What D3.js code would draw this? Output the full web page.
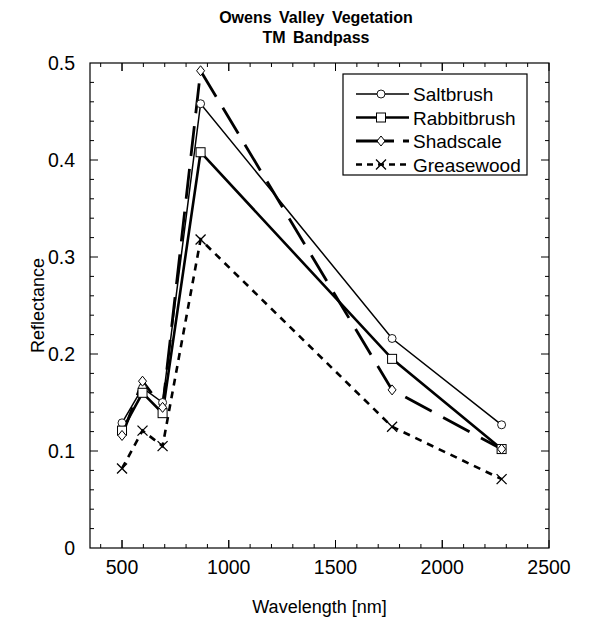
<!DOCTYPE html>
<html>
<head>
<meta charset="UTF-8">
<title>Owens Valley Vegetation</title>
<script src="https://cdn.jsdelivr.net/npm/d3@7"></script>
<style>
body { margin: 0; background: #fff; }
svg text { font-family: "Liberation Sans", Arial, sans-serif; fill: #000; }
</style>
</head>
<body>
<div id="chart"></div>
<script>
// wavelengths of the TM bands (nm)
var wavelength = [500, 596, 690, 868, 1765, 2278];
var seriesNames = ["Saltbrush", "Rabbitbrush", "Shadscale", "Greasewood"];
var saltbrush   = [0.129, 0.165, 0.150, 0.458, 0.216, 0.127];
var rabbitbrush = [0.121, 0.160, 0.139, 0.408, 0.195, 0.102];
var shadscale   = [0.116, 0.172, 0.145, 0.492, 0.163, 0.102];
var greasewood  = [0.082, 0.121, 0.105, 0.318, 0.125, 0.071];
var xTicks = [500, 1000, 1500, 2000, 2500];
var yTicks = [0, 0.1, 0.2, 0.3, 0.4, 0.5];

var width = 610, height = 622;
var margin = {top: 63, right: 61, bottom: 74, left: 90};

var svg = d3.select("#chart").append("svg")
    .attr("width", width)
    .attr("height", height);

var x = d3.scaleLinear().domain([350, 2500]).range([margin.left, width - margin.right]);
var y = d3.scaleLinear().domain([0, 0.5]).range([height - margin.bottom, margin.top]);

// frame
svg.append("rect")
    .attr("x", x(350)).attr("y", y(0.5))
    .attr("width", x(2500) - x(350)).attr("height", y(0) - y(0.5))
    .attr("fill", "none").attr("stroke", "#000").attr("stroke-width", 1.2);

// ticks inside the frame, on all four sides
var xMinor = d3.range(400, 2500, 100);
var yMinor = d3.range(0.02, 0.5, 0.02);
function tickLen(isMajor) { return isMajor ? 8 : 4; }

xMinor.concat(xTicks).forEach(function(v) {
    var major = xTicks.indexOf(v) >= 0;
    var L = tickLen(major);
    svg.append("line").attr("x1", x(v)).attr("x2", x(v))
        .attr("y1", y(0)).attr("y2", y(0) - L).attr("stroke", "#000");
    svg.append("line").attr("x1", x(v)).attr("x2", x(v))
        .attr("y1", y(0.5)).attr("y2", y(0.5) + L).attr("stroke", "#000");
});
yMinor.forEach(function(v) {
    var major = Math.abs(v * 10 - Math.round(v * 10)) < 1e-6;
    var L = tickLen(major);
    svg.append("line").attr("x1", x(350)).attr("x2", x(350) + L)
        .attr("y1", y(v)).attr("y2", y(v)).attr("stroke", "#000");
    svg.append("line").attr("x1", x(2500)).attr("x2", x(2500) - L)
        .attr("y1", y(v)).attr("y2", y(v)).attr("stroke", "#000");
});

// tick labels
svg.selectAll(".xlab").data(xTicks).enter().append("text")
    .attr("class", "xlab")
    .attr("x", function(d) { return x(d); })
    .attr("y", y(0) + 26)
    .attr("text-anchor", "middle")
    .attr("font-size", "19.5px")
    .text(function(d) { return d; });
svg.selectAll(".ylab").data(yTicks).enter().append("text")
    .attr("class", "ylab")
    .attr("x", x(350) - 15)
    .attr("y", function(d) { return y(d) + 7; })
    .attr("text-anchor", "end")
    .attr("font-size", "19.5px")
    .text(function(d) { return d === 0 ? "0" : d3.format(".1f")(d); });

// axis titles
svg.append("text")
    .attr("x", (x(350) + x(2500)) / 2).attr("y", 613)
    .attr("text-anchor", "middle").attr("font-size", "18px")
    .text("Wavelength [nm]");
svg.append("text")
    .attr("transform", "translate(44," + ((y(0) + y(0.5)) / 2) + ") rotate(-90)")
    .attr("text-anchor", "middle").attr("font-size", "18px")
    .text("Reflectance");

// title
svg.append("text")
    .attr("x", 316).attr("y", 23)
    .attr("text-anchor", "middle").attr("font-size", "16px").attr("font-weight", "bold")
    .attr("word-spacing", "3px")
    .text("Owens Valley Vegetation");
svg.append("text")
    .attr("x", 316).attr("y", 43)
    .attr("text-anchor", "middle").attr("font-size", "16px").attr("font-weight", "bold")
    .attr("word-spacing", "3px")
    .text("TM Bandpass");

// series styles
var styles = [
    {values: saltbrush,   width: 1.5, dash: null,   marker: "circle"},
    {values: rabbitbrush, width: 2.6, dash: null,   marker: "square"},
    {values: shadscale,   width: 2.8, dash: "30,13", marker: "diamond"},
    {values: greasewood,  width: 2.6, dash: "7,6",  marker: "cross"}
];

function drawMarker(g, type, cx, cy) {
    if (type === "circle") {
        g.append("circle").attr("cx", cx).attr("cy", cy).attr("r", 4)
            .attr("fill", "#fff").attr("stroke", "#000").attr("stroke-width", 0.9);
    } else if (type === "square") {
        g.append("rect").attr("x", cx - 4.5).attr("y", cy - 4.5).attr("width", 9).attr("height", 9)
            .attr("fill", "#fff").attr("stroke", "#000").attr("stroke-width", 1);
    } else if (type === "diamond") {
        g.append("path").attr("d", "M" + cx + "," + (cy - 5) + "L" + (cx + 4) + "," + cy +
                "L" + cx + "," + (cy + 5) + "L" + (cx - 4) + "," + cy + "Z")
            .attr("fill", "#fff").attr("stroke", "#000").attr("stroke-width", 1);
    } else {
        g.append("path").attr("d", "M" + (cx - 5) + "," + (cy - 5) + "L" + (cx + 5) + "," + (cy + 5) +
                "M" + (cx + 5) + "," + (cy - 5) + "L" + (cx - 5) + "," + (cy + 5))
            .attr("fill", "none").attr("stroke", "#000").attr("stroke-width", 1.3);
    }
}

var line = d3.line()
    .x(function(d, i) { return x(wavelength[i]); })
    .y(function(d) { return y(d); });

styles.forEach(function(s) {
    svg.append("path")
        .datum(s.values)
        .attr("d", line)
        .attr("fill", "none")
        .attr("stroke", "#000")
        .attr("stroke-width", s.width)
        .attr("stroke-dasharray", s.dash);
});
styles.forEach(function(s) {
    var g = svg.append("g");
    s.values.forEach(function(v, i) {
        drawMarker(g, s.marker, x(wavelength[i]), y(v));
    });
});

// legend
var legend = svg.append("g").attr("transform", "translate(343,74)");
legend.append("rect").attr("width", 184).attr("height", 101)
    .attr("fill", "#fff").attr("stroke", "#000").attr("stroke-width", 1.2);
var legendDash = [null, null, "38,9", "6,5"];
styles.forEach(function(s, i) {
    var ly = 20 + i * 23.5;
    legend.append("line").attr("x1", 13).attr("x2", 66).attr("y1", ly).attr("y2", ly)
        .attr("stroke", "#000").attr("stroke-width", s.width).attr("stroke-dasharray", legendDash[i]);
    drawMarker(legend, s.marker, 38, ly);
    legend.append("text").attr("x", 70).attr("y", ly + 7)
        .attr("font-size", "19px")
        .text(seriesNames[i]);
});
</script>
</body>
</html>
